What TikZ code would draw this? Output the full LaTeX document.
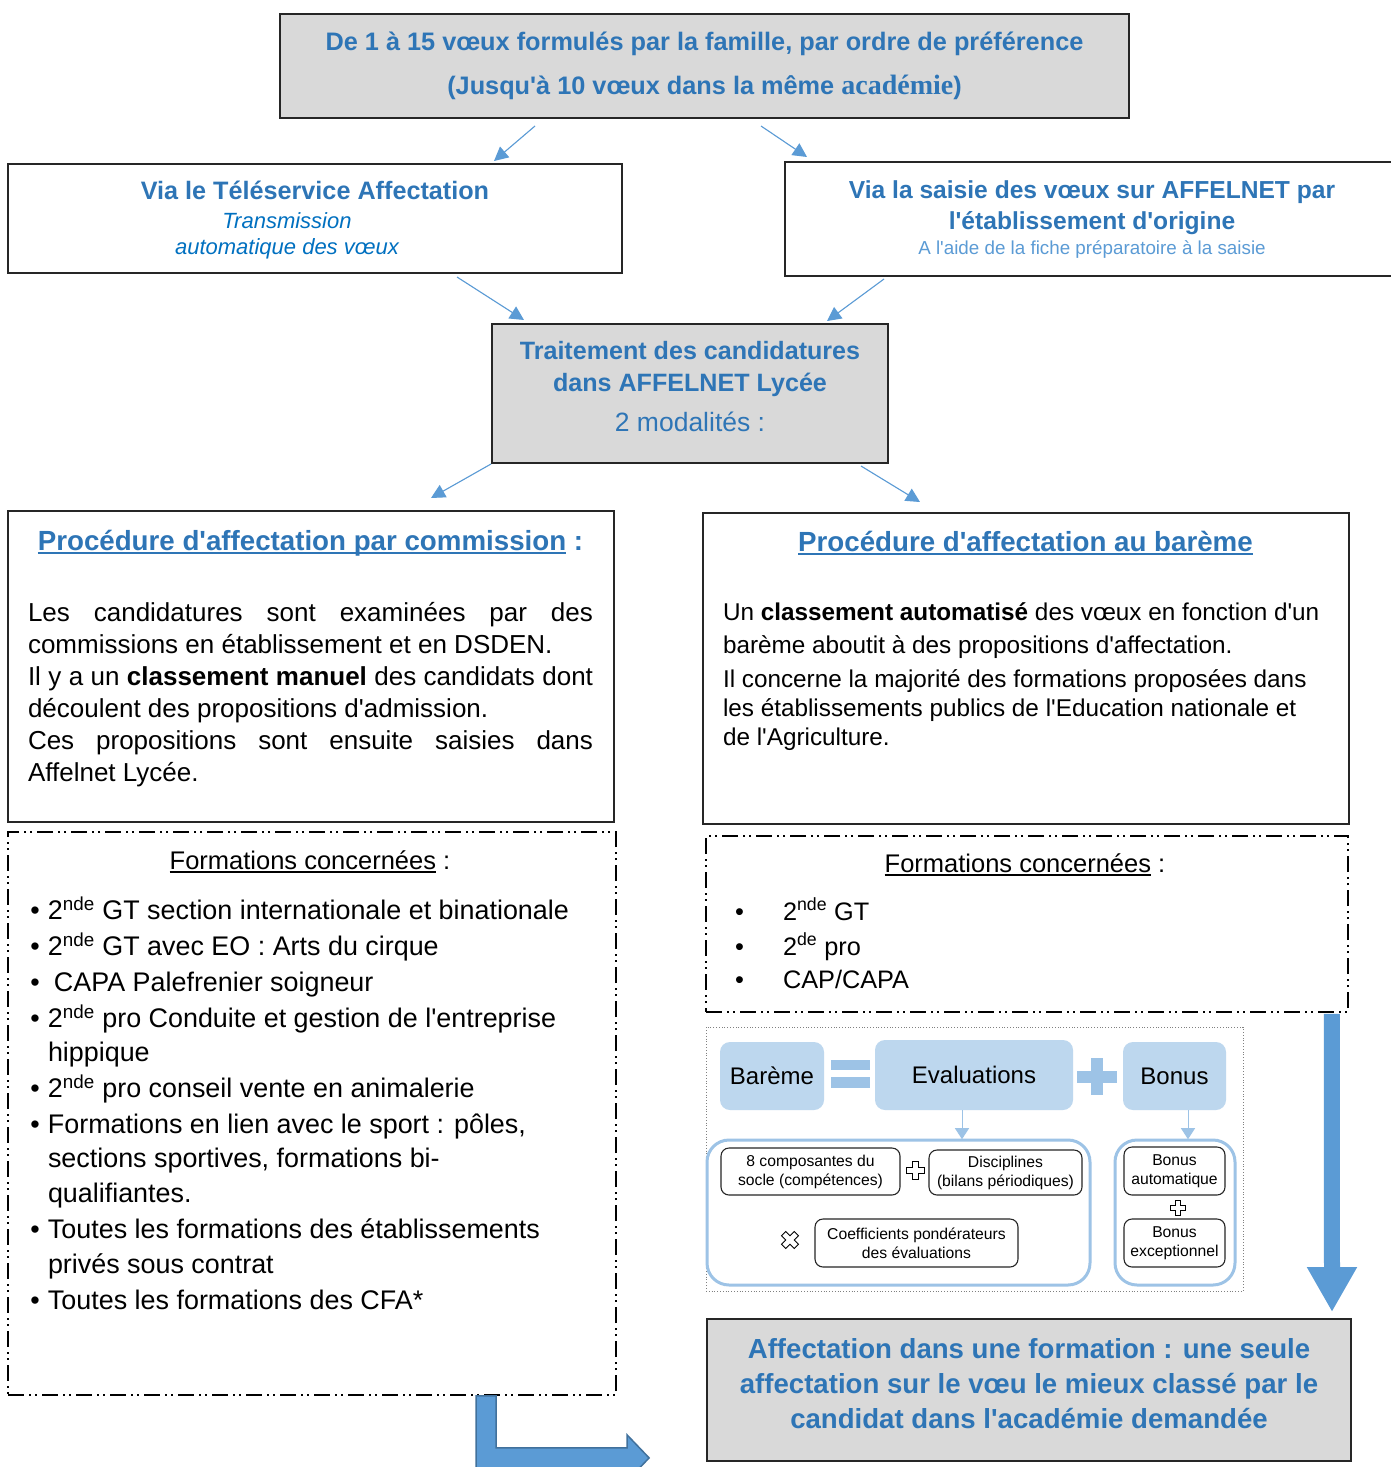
\documentclass[tikz,border=0pt]{standalone}
\usepackage{fontspec}
\setmainfont{Liberation Sans}[Ligatures=TeXOff]
\newfontfamily\serifb{Liberation Serif}
\usetikzlibrary{arrows.meta,calc}
\definecolor{tblue}{HTML}{2E75B6}
\definecolor{lblue}{HTML}{5B9BD5}
\definecolor{iblue}{HTML}{0070C0}
\definecolor{gfill}{HTML}{D9D9D9}
\definecolor{pblue}{HTML}{BDD7EE}
\definecolor{mblue}{HTML}{9DC3E6}
\definecolor{dblue}{HTML}{41719C}
\newcommand\setfs[2]{\fontsize{#1pt}{#2pt}\selectfont}
\newcommand\myul[1]{\setbox0\hbox{#1}\rlap{\rule[-3.5pt]{\wd0}{1.7pt}}\box0\relax}
\newcommand\sx[1]{\textsuperscript{#1}}
\tikzset{
  box/.style={draw=black!85, line width=2pt, inner sep=0pt},
  graybox/.style={box, fill=gfill},
  conn/.style={draw=lblue, line width=1.1pt, -{Triangle[length=14pt,width=14pt]}, fill=lblue},
  dashbox/.style={draw=black, line width=1.8pt, inner sep=0pt, dash pattern=on 16pt off 5pt on 2pt off 4pt on 2pt off 5pt},
  txt/.style={inner sep=0pt, outer sep=0pt},
  ttl/.style={txt, anchor=base, text=tblue, font=\bfseries\setfs{#1}{#1}},
  body/.style={txt, anchor=base west, font=\setfs{#1}{#1}},
  pill/.style={fill=pblue, rounded corners=10pt, inner sep=0pt, font=\setfs{24}{28}},
  grp/.style={draw=mblue, line width=3pt, rounded corners=22pt, fill=white, inner sep=0pt},
  ibox/.style={draw=black!85, line width=1.1pt, rounded corners=8pt, fill=white, inner sep=0pt, align=center, font=\setfs{15.7}{19}},
  oplus/.pic={\draw[line width=0.8pt, fill=white] (-3,-9) -- (3,-9) -- (3,-3) -- (9,-3) -- (9,3) -- (3,3) -- (3,9) -- (-3,9) -- (-3,3) -- (-9,3) -- (-9,-3) -- (-3,-3) -- cycle;}
}
\begin{document}
\begin{tikzpicture}[x=1pt,y=-1pt]
\useasboundingbox (0,0) rectangle (1391,1467);
\clip (0,0) rectangle (1391,1467);
\fill[white] (0,0) rectangle (1391,1467);

% ---------- top box
\node[graybox, minimum width=849pt, minimum height=104pt] (top) at (704.5,66) {};
\node[ttl=25.3] (topa) at (704.5,50) {De 1 à 15 vœux formulés par la famille, par ordre de préférence};
\node[ttl=25.3] (topb) at (704.5,94) {(Jusqu'à 10 vœux dans la même {\serifb\bfseries\setfs{28}{28}académie})};

% ---------- via boxes
\node[box, minimum width=614pt, minimum height=109pt] (lvia) at (315,218.5) {};
\node[ttl=25.2] (lviaa) at (315,199) {Via le Téléservice Affectation};
\node[txt, anchor=base, text=iblue, font=\itshape\setfs{22}{22}] (lviab) at (287,228) {Transmission};
\node[txt, anchor=base, text=iblue, font=\itshape\setfs{22}{22}] (lviac) at (287,254) {automatique des vœux};

\node[box, minimum width=610pt, minimum height=114pt] (rvia) at (1090,219) {};
\node[ttl=24.6] (rviaa) at (1092,198) {Via la saisie des vœux sur AFFELNET par};
\node[ttl=24.6] (rviab) at (1092,229) {l'établissement d'origine};
\node[txt, anchor=base, text=lblue, font=\setfs{18.8}{18.8}] (rviac) at (1092,254) {A l'aide de la fiche préparatoire à la saisie};

% ---------- middle box
\node[graybox, minimum width=396pt, minimum height=139pt] (mid) at (690,393.5) {};
\node[ttl=25.1] (mida) at (690,359) {Traitement des candidatures};
\node[ttl=25.1] (midb) at (690,391) {dans AFFELNET Lycée};
\node[txt, anchor=base, text=tblue, font=\setfs{26.5}{26.5}] (midc) at (690,431.5) {2 modalités :};

% ---------- connectors
\draw[conn] ([shift={(256,7)}]top.south west) -- ([shift={(487,-2)}]lvia.north west);
\draw[conn] ([shift={(482,7)}]top.south west) -- ([shift={(23,-4)}]rvia.north west);
\draw[conn] ([shift={(450,3)}]lvia.south west) -- ([shift={(33,-3)}]mid.north west);
\draw[conn] ([shift={(100,2)}]rvia.south west) -- ([shift={(336,-2)}]mid.north west);

% ---------- procedure boxes
\node[box, minimum width=606pt, minimum height=311pt] (lproc) at (311,666.5) {};
\node[box, minimum width=646pt, minimum height=311pt] (rproc) at (1026,668.5) {};
\draw[conn] (mid.south west) -- ([shift={(424,-12)}]lproc.north west);
\draw[conn] ([shift={(-28,2)}]mid.south east) -- ([shift={(218,-10)}]rproc.north west);

\node[ttl=27.7] (lproct) at (310.5,550) {\myul{Procédure d'affectation par commission} :};
\node[body=26] (lp1) at (28,621) {\makebox[565pt][s]{Les candidatures sont examinées par des}};
\node[body=26] (lp2) at (28,653) {commissions en établissement et en DSDEN.};
\node[body=26] (lp3) at (28,685) {\makebox[565pt][s]{Il y a un \textbf{classement manuel} des candidats dont}};
\node[body=26] (lp4) at (28,717) {découlent des propositions d'admission.};
\node[body=26] (lp5) at (28,749) {\makebox[565pt][s]{Ces propositions sont ensuite saisies dans}};
\node[body=26] (lp6) at (28,781) {Affelnet Lycée.};

\node[ttl=27.7] (rproct) at (1025.5,551) {\myul{Procédure d'affectation au barème}};
\node[body=24.3] (rp1) at (723,620) {Un \textbf{classement automatisé} des vœux en fonction d'un};
\node[body=24.3] (rp2) at (723,653) {barème aboutit à des propositions d'affectation.};
\node[body=24.3] (rp3) at (723,687) {Il concerne la majorité des formations proposées dans};
\node[body=24.3] (rp4) at (723,716) {les établissements publics de l'Education nationale et};
\node[body=24.3] (rp5) at (723,745) {de l'Agriculture.};

% ---------- formations boxes
\node[dashbox, minimum width=608pt, minimum height=563pt] (lform) at (312,1113.5) {};
\node[txt, anchor=base, font=\setfs{25.5}{25.5}] (lformt) at (310,869) {\myul{Formations concernées} :};
\foreach \xx/\yy/\ltxt [count=\i] in {
  30.5/919.4/{\makebox[17.5pt][l]{•}2\sx{nde} GT section internationale et binationale},
  30.5/955.4/{\makebox[17.5pt][l]{•}2\sx{nde} GT avec EO : Arts du cirque},
  30.5/991.4/{\makebox[23.5pt][l]{•}CAPA Palefrenier soigneur},
  30.5/1027.4/{\makebox[17.5pt][l]{•}2\sx{nde} pro Conduite et gestion de l'entreprise},
  48/1061.4/{hippique},
  30.5/1097.4/{\makebox[17.5pt][l]{•}2\sx{nde} pro conseil vente en animalerie},
  30.5/1133.4/{\makebox[17.5pt][l]{•}Formations en lien avec le sport : pôles,},
  48/1167.4/{sections sportives, formations bi-},
  48/1202.4/{qualifiantes.},
  30.5/1238.4/{\makebox[17.5pt][l]{•}Toutes les formations des établissements},
  48/1273.4/{privés sous contrat},
  30.5/1309.4/{\makebox[17.5pt][l]{•}Toutes les formations des CFA*}}
  \node[body=26.9] (fl\i) at (\xx,\yy) {\ltxt};

\node[dashbox, minimum width=642pt, minimum height=176pt] (rform) at (1027,924) {};
\node[txt, anchor=base, font=\setfs{25.5}{25.5}] (rformt) at (1025,872) {\myul{Formations concernées} :};
\node[body=25.3] (fr1) at (735,920) {\makebox[48pt][l]{•}2\sx{nde} GT};
\node[body=25.3] (fr2) at (735,955) {\makebox[48pt][l]{•}2\sx{de} pro};
\node[body=25.3] (fr3) at (735,988) {\makebox[48pt][l]{•}CAP/CAPA};

% ---------- bareme panel
\node[draw=gray, dotted, line width=0.8pt, minimum width=537pt, minimum height=264pt, inner sep=0pt] (panel) at (974.5,1159) {};
\node[pill, minimum width=104pt, minimum height=68pt] (bar) at (772,1076) {Barème};
\node[pill, minimum width=198pt, minimum height=70pt] (eval) at (974,1075) {Evaluations};
\node[pill, minimum width=103pt, minimum height=68pt] (bonus) at (1174.5,1076) {Bonus};
\fill[mblue] (831,1060) rectangle (870,1070);
\fill[mblue] (831,1077) rectangle (870,1088);
\fill[mblue] (1077,1071) rectangle (1117,1083);
\fill[mblue] (1091,1058) rectangle (1103,1095);
\node[grp, minimum width=383pt, minimum height=145pt] (geval) at (898.5,1212.5) {};
\node[grp, minimum width=120pt, minimum height=145pt] (gbon) at (1175,1212.5) {};
\draw[mblue, line width=1pt, -{Triangle[length=11pt,width=14pt]}] ([shift={(-12,0)}]eval.south) -- ([shift={(-12,29)}]eval.south);
\draw[mblue, line width=1pt, -{Triangle[length=11pt,width=14pt]}] ([shift={(13.5,0)}]bonus.south) -- ([shift={(13.5,29)}]bonus.south);
\node[ibox, minimum width=179pt, minimum height=47pt] (socle) at (810.5,1171.5) {8 composantes du\\socle (compétences)};
\node[ibox, minimum width=153pt, minimum height=45pt] (disc) at (1005.5,1172.5) {Disciplines\\(bilans périodiques)};
\node[ibox, minimum width=203pt, minimum height=48pt] (coef) at (916.5,1243) {Coefficients pondérateurs\\des évaluations};
\node[ibox, minimum width=101pt, minimum height=48pt] (bauto) at (1174.5,1171) {Bonus\\automatique};
\node[ibox, minimum width=101pt, minimum height=48pt] (bexc) at (1174.5,1243) {Bonus\\exceptionnel};
\pic at (915,1170) {oplus};
\pic[rotate=45] at (790,1240) {oplus};
\pic[scale=0.85] at (1178,1208) {oplus};

% ---------- final box and arrows
\node[graybox, minimum width=644pt, minimum height=142pt] (fin) at (1029,1390) {};
\node[ttl=27.6] (fina) at (1029,1358) {Affectation dans une formation : une seule};
\node[ttl=27.6] (finb) at (1029,1393) {affectation sur le vœu le mieux classé par le};
\node[ttl=27.6] (finc) at (1029,1428) {candidat dans l'académie demandée};

\draw[lblue, line width=16pt, -{Triangle[length=45pt,width=47pt]}] ([shift={(-17,1)}]rform.south east) -- ([shift={(-20,-6)}]fin.north east);

\coordinate (la) at ([shift={(469,0)}]lform.south west);
\filldraw[fill=lblue, draw=dblue, line width=1.5pt] (la) -- ++(20,0) -- ++(0,52) -- ++(131,0) -- ++(0,-13) -- ++(22,23) -- ++(-22,23) -- ++(0,-13) -- ++(-151,0) -- cycle;
\end{tikzpicture}
\end{document}
